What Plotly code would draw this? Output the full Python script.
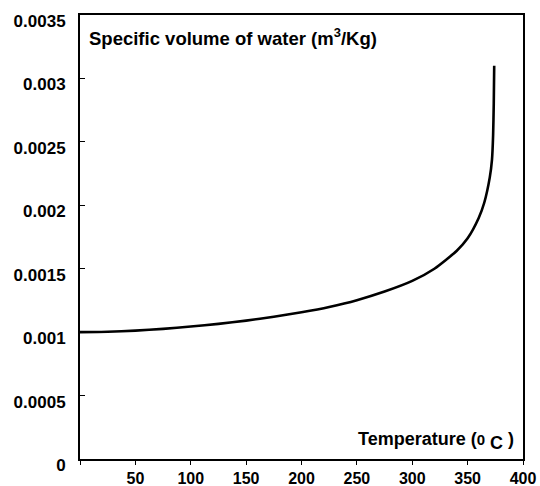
import plotly.graph_objects as go

# Saturated liquid water: temperature (deg C) vs specific volume (m3/kg)
temperature = [0, 25, 50, 75, 100, 125, 150, 175, 200, 225, 250, 275, 300,
               320, 340, 350, 360, 365, 370, 372, 373, 373.6, 374]
specific_volume = [0.001000, 0.001003, 0.001012, 0.001026, 0.001044, 0.001065,
                   0.001091, 0.001121, 0.001157, 0.001199, 0.001252, 0.001320,
                   0.001404, 0.001500, 0.001640, 0.001740, 0.001900, 0.002020,
                   0.002220, 0.002360, 0.002550, 0.002800, 0.003100]

x_ticks = [0, 50, 100, 150, 200, 250, 300, 350, 400]
x_tick_text = ["", "50", "100", "150", "200", "250", "300", "350", "400"]
y_ticks = [0, 0.0005, 0.001, 0.0015, 0.002, 0.0025, 0.003, 0.0035]
y_tick_text = ["0", "0.0005", "0.001", "0.0015", "0.002", "0.0025", "0.003", "0.0035"]

font_family = "Liberation Sans, Arial, sans-serif"

fig = go.Figure()
fig.add_trace(go.Scatter(
    x=temperature, y=specific_volume, mode="lines",
    line=dict(color="black", width=2.6, shape="spline", smoothing=0.6),
    hoverinfo="skip", showlegend=False,
))

fig.update_xaxes(
    range=[0, 400], tickmode="array", tickvals=x_ticks, ticktext=x_tick_text,
    ticks="outside", ticklen=4, tickwidth=1, tickcolor="black", ticklabelstandoff=0,
    tickfont=dict(family=font_family, size=16, color="black", weight="bold"),
    showgrid=False, zeroline=False, showline=True,
    linecolor="black", linewidth=2, mirror=True, automargin=False,
)
fig.update_yaxes(
    range=[0, 0.0035], tickmode="array", tickvals=y_ticks, ticktext=y_tick_text,
    ticks="inside", ticklen=5, tickwidth=1, tickcolor="black",
    ticklabelstandoff=9, ticklabelshift=6,
    tickfont=dict(family=font_family, size=17, color="black", weight="bold"),
    showgrid=False, zeroline=False, showline=True,
    linecolor="black", linewidth=2, mirror=True, automargin=False,
)

fig.add_annotation(
    xref="paper", yref="paper", x=0.016, y=0.95, xanchor="left", yanchor="middle",
    text="Specific volume of water (m<sup>3</sup>/Kg)", showarrow=False,
    font=dict(family=font_family, size=18.5, color="black", weight="bold"),
)
fig.add_annotation(
    xref="paper", yref="paper", x=0.984, y=0.041, xanchor="right", yanchor="middle",
    text="Temperature (<span style='font-size:15px'>0</span> <sub><span style='font-size:18px'>C</span></sub> )",
    showarrow=False,
    font=dict(family=font_family, size=18, color="black", weight="bold"),
)

fig.update_layout(
    width=540, height=486,
    margin=dict(l=80, r=17, t=15, b=27),
    plot_bgcolor="white", paper_bgcolor="white",
)

fig.write_html("out.html")
